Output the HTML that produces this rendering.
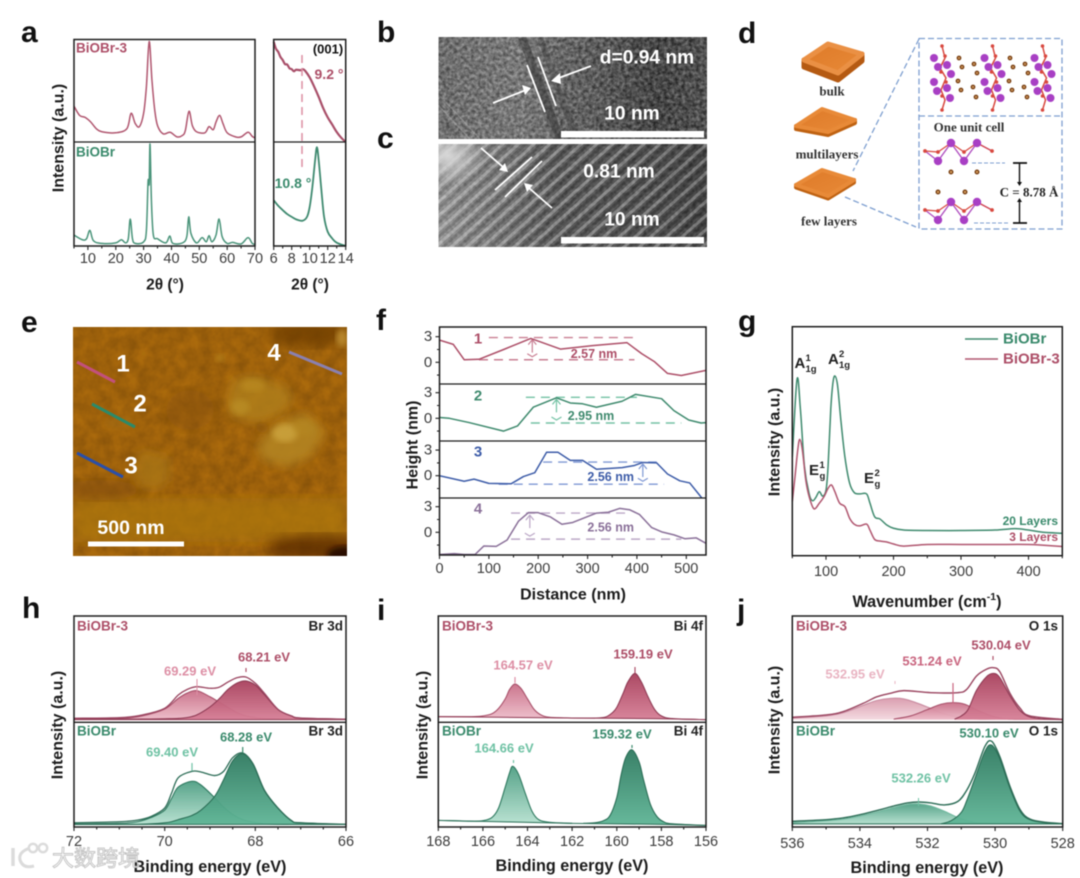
<!DOCTYPE html>
<html lang="en">
<head>
<meta charset="utf-8">
<title>BiOBr characterization figure</title>
<style>
html,body{margin:0;padding:0;background:#fff;width:1080px;height:878px;overflow:hidden}
svg{display:block;filter:blur(.45px);font-family:"Liberation Sans","Noto Sans CJK SC",sans-serif}
</style>
</head>
<body>
<svg id="fig" xmlns="http://www.w3.org/2000/svg" width="1080" height="878" viewBox="0 0 1080 878">
<defs>
  <linearGradient id="redL" x1="0" y1="0" x2="0" y2="1"><stop offset="0" stop-color="#c96f88"/><stop offset="1" stop-color="#ecbac7"/></linearGradient>
  <linearGradient id="redD" x1="0" y1="0" x2="0" y2="1"><stop offset="0" stop-color="#a8405c"/><stop offset="1" stop-color="#d67f96"/></linearGradient>
  <linearGradient id="redP" x1="0" y1="0" x2="0" y2="1"><stop offset="0" stop-color="#d99aac"/><stop offset="1" stop-color="#f3d8df"/></linearGradient>
  <linearGradient id="greenL" x1="0" y1="0" x2="0" y2="1"><stop offset="0" stop-color="#4f9f84"/><stop offset="1" stop-color="#b5e0cf"/></linearGradient>
  <linearGradient id="greenD" x1="0" y1="0" x2="0" y2="1"><stop offset="0" stop-color="#2f7a60"/><stop offset="1" stop-color="#5fb596"/></linearGradient>
  <linearGradient id="temB" x1="0" y1="0" x2="1" y2="0"><stop offset="0" stop-color="#666"/><stop offset=".3" stop-color="#777"/><stop offset=".45" stop-color="#5e5e5e"/><stop offset=".62" stop-color="#4a4a4a"/><stop offset=".8" stop-color="#2e2e2e"/><stop offset="1" stop-color="#3e3e3e"/></linearGradient>
  <linearGradient id="temC" x1="0" y1="0" x2="1" y2="0"><stop offset="0" stop-color="#777"/><stop offset=".4" stop-color="#5a5a5a"/><stop offset=".7" stop-color="#4a4a4a"/><stop offset="1" stop-color="#444"/></linearGradient>
  <radialGradient id="temGlow" cx=".5" cy=".5" r=".5"><stop offset="0" stop-color="#dcdcdc" stop-opacity=".95"/><stop offset="1" stop-color="#dcdcdc" stop-opacity="0"/></radialGradient>
  <pattern id="fringe" width="10.5" height="10.5" patternUnits="userSpaceOnUse" patternTransform="rotate(-42)">
    <rect y="1" width="10.5" height="3" fill="#fff" fill-opacity=".32"/>
    <rect y="6" width="10.5" height="2.8" fill="#000" fill-opacity=".26"/>
  </pattern>
  <linearGradient id="fringeFade" x1="0" y1="0" x2="1" y2="0"><stop offset="0" stop-color="#fff" stop-opacity=".22"/><stop offset=".45" stop-color="#fff" stop-opacity="0"/><stop offset="1" stop-color="#000" stop-opacity=".1"/></linearGradient>
  <filter id="temNoise" x="0" y="0" width="100%" height="100%" color-interpolation-filters="sRGB"><feTurbulence type="fractalNoise" baseFrequency=".28" numOctaves="2" seed="5"/><feColorMatrix values="1.7 0 0 0 -.35 1.7 0 0 0 -.35 1.7 0 0 0 -.35 0 0 0 0 1"/></filter>
  <filter id="afmNoise" x="0" y="0" width="100%" height="100%" color-interpolation-filters="sRGB"><feTurbulence type="fractalNoise" baseFrequency=".08" numOctaves="3" seed="9"/><feColorMatrix values="1.3 0 0 0 0 .85 0 0 0 0 .1 0 0 0 0 0 0 0 0 1"/></filter>
  <filter id="b3"><feGaussianBlur stdDeviation="3"/></filter>
  <filter id="b5"><feGaussianBlur stdDeviation="5"/></filter>
  <filter id="b6"><feGaussianBlur stdDeviation="6"/></filter>
  <linearGradient id="plate" x1="0" y1="0" x2="1" y2="1"><stop offset="0" stop-color="#de7a28"/><stop offset="1" stop-color="#e88a38"/></linearGradient>
  <clipPath id="clipB"><rect x="438.5" y="37" width="268.5" height="102"/></clipPath>
  <clipPath id="clipC"><rect x="438.5" y="144" width="268.5" height="103"/></clipPath>
  <clipPath id="clipE"><rect x="73" y="327" width="274" height="229"/></clipPath>
</defs>
<rect width="1080" height="878" fill="#fff"/>

<!-- panel b TEM -->
<g clip-path="url(#clipB)">
  <rect x="438.5" y="37" width="268.5" height="102" fill="url(#temB)"/>
  <rect x="438.5" y="37" width="268.5" height="102" filter="url(#temNoise)" opacity=".3"/>
  <path d="M522 37L560 139" stroke="#2c2c2c" stroke-width="8" opacity=".45" fill="none"/>
  <path d="M540 37L576 139" stroke="#333" stroke-width="6" opacity=".3" fill="none"/>
  <path d="M438 105L470 139M444 100L480 139" stroke="#ddd" stroke-width="1.5" opacity=".25" fill="none"/>
</g>
<g stroke="#fff" fill="none" stroke-width="1.8">
  <path d="M527 65L545 112"/>
  <path d="M538 57L556 106"/>
  <path d="M493 103L526 90"/>
  <path d="M522 85L531 88L525 95Z" fill="#fff" stroke="none"/>
  <path d="M591 66L556 79"/>
  <path d="M560 73L551 81L561 84Z" fill="#fff" stroke="none"/>
</g>
<rect x="561" y="131" width="143" height="6.5" fill="#fff"/>

<!-- panel c TEM -->
<g clip-path="url(#clipC)">
  <rect x="438.5" y="144" width="268.5" height="103" fill="url(#temC)"/>
  <rect x="438.5" y="144" width="268.5" height="103" fill="url(#fringe)"/>
  <rect x="438.5" y="144" width="268.5" height="103" fill="url(#fringeFade)"/>
  <rect x="438.5" y="144" width="268.5" height="103" filter="url(#temNoise)" opacity=".12"/>
  <ellipse cx="448" cy="156" rx="38" ry="30" fill="url(#temGlow)"/>
</g>
<g stroke="#fff" fill="none" stroke-width="1.8">
  <path d="M495 190L532 157"/>
  <path d="M505 197L542 161"/>
  <path d="M481 148L503 167"/>
  <path d="M499 170L508 172L505 163Z" fill="#fff" stroke="none"/>
  <path d="M552 208L529 188"/>
  <path d="M533 185L524 183L527 192Z" fill="#fff" stroke="none"/>
</g>
<rect x="561" y="237" width="143" height="6.5" fill="#fff"/>

<!-- panel d schematic -->
<g stroke-linejoin="round">
  <path d="M804 60L804 67L838 80L862 61L862 54Z" fill="#b55a12" stroke="#b55a12" stroke-width="5"/>
  <path d="M804 60L828 44L862 54L838 73Z" fill="url(#plate)" stroke="#ea9044" stroke-width="5"/>
  <path d="M796 126L796 129L828 135L855 123L855 120Z" fill="#bf6212" stroke="#bf6212" stroke-width="4"/>
  <path d="M796 126L822 109L855 120L828 132Z" fill="url(#plate)" stroke="#e88a38" stroke-width="4"/>
  <path d="M796 185L796 187.5L828 198.5L854 182.5L854 180Z" fill="#bf6212" stroke="#bf6212" stroke-width="4"/>
  <path d="M796 185L822 170L854 180L828 196Z" fill="url(#plate)" stroke="#e88a38" stroke-width="4"/>
  <g stroke="#7e9fd0" stroke-width="1.3" fill="none" stroke-dasharray="6 3">
    <rect x="919" y="38.5" width="143" height="190.5"/>
    <path d="M919 116H1062"/>
    <path d="M919 39L853 171"/>
    <path d="M845 197L916 227"/>
  </g>
  <g id="atoms"></g>
  <g stroke="#7e9fd0" stroke-width="1.1" stroke-dasharray="4 2" fill="none">
    <path d="M972 163H1005"/>
    <path d="M974 223H1008"/>
  </g>
  <g stroke="#111" fill="none">
    <path d="M1013 163H1027M1013 223H1027" stroke-width="1.8"/>
    <path d="M1019.5 163V183M1019.5 223V201" stroke-width="1.4"/>
    <path d="M1017 182L1019.5 186L1022 182ZM1017 202L1019.5 198L1022 202Z" fill="#111" stroke="none"/>
  </g>
</g>

<!-- panel e AFM -->
<g clip-path="url(#clipE)">
  <rect x="73" y="327" width="274" height="229" fill="#9c5f0b"/>
  <rect x="73" y="327" width="274" height="229" filter="url(#afmNoise)" opacity=".14"/>
  <rect x="73" y="498" width="274" height="44" fill="#ad780e" opacity=".7" filter="url(#b6)"/>
  <ellipse cx="310" cy="333" rx="42" ry="14" fill="#6e3e06" opacity=".8" filter="url(#b6)"/>
  <ellipse cx="190" cy="410" rx="24" ry="20" fill="#85500a" opacity=".45" filter="url(#b6)"/>
  <ellipse cx="100" cy="490" rx="40" ry="10" fill="#85500a" opacity=".7" filter="url(#b6)"/>
  <ellipse cx="318" cy="548" rx="52" ry="13" fill="#5a2c04" opacity=".8" filter="url(#b6)"/>
  <ellipse cx="345" cy="556" rx="18" ry="10" fill="#2a0e00" filter="url(#b3)"/>
  <path d="M233 380L253 375L287 387L293 400L280 415L257 423L233 417L227 403Z" fill="#b0801a" opacity=".8" filter="url(#b5)"/>
  <path d="M267 433L283 420L307 413L325 433L310 457L287 467L263 460L257 447Z" fill="#b38420" opacity=".9" filter="url(#b5)"/>
  <ellipse cx="285" cy="433" rx="13" ry="9" fill="#d4ae46" opacity=".65" filter="url(#b3)"/>
  <ellipse cx="253" cy="385" rx="12" ry="7" fill="#bd8e22" opacity=".6" filter="url(#b3)"/>
  <ellipse cx="240" cy="407" rx="10" ry="8" fill="#c0962a" opacity=".55" filter="url(#b3)"/>
  <ellipse cx="305" cy="428" rx="12" ry="8" fill="#b58820" opacity=".55" filter="url(#b3)"/>
  <ellipse cx="262" cy="428" rx="6" ry="5" fill="#85520a" opacity=".6" filter="url(#b3)"/>
  <path d="M140 450L170 457L170 480L157 490L140 487L133 473Z" fill="#a87614" opacity=".75" filter="url(#b5)"/>
  <ellipse cx="342" cy="338" rx="6" ry="9" fill="#b8862a" filter="url(#b3)"/>
  <ellipse cx="120" cy="423" rx="15" ry="6" fill="#aa7212" opacity=".5" filter="url(#b3)"/>
  <ellipse cx="220" cy="358" rx="5" ry="4" fill="#b0801a" opacity=".7" filter="url(#b3)"/>
  <path d="M77 362L115 382" stroke="#c2507c" stroke-width="3"/>
  <path d="M92 404L135 427" stroke="#2b8a6a" stroke-width="3"/>
  <path d="M77 453L123 477" stroke="#2a4fa8" stroke-width="3"/>
  <path d="M289 352L342 374" stroke="#8a80b0" stroke-width="3"/>
</g>
<rect x="88" y="541.5" width="96" height="5" fill="#fff"/>

<g id="charts"></g>

<!-- watermark -->
<g opacity=".92">
  <g fill="none" stroke="#c9c9c9" stroke-width="2.4">
    <path d="M13 848L13 866" stroke="#d8d8d8" stroke-width="3.4"/>
    <path d="M30 848Q18 852 20 860Q23 869 34 866" stroke="#d8d8d8" stroke-width="3"/>
    <circle cx="33" cy="848" r="4.2" stroke="#d8d8d8"/><circle cx="43" cy="848" r="4.2" stroke="#d8d8d8"/>
  </g>
  <text x="52" y="866" font-size="22" font-family="'Noto Sans CJK SC','WenQuanYi Zen Hei',sans-serif" fill="#fff" stroke="#bdbdbd" stroke-width=".9">大数跨境</text>
</g>
</svg>

<script>
// ---------- panel a data ----------
const aTopX=[5,7,9,11,13,15,20,24,25.5,27,28.5,30,31,32,33,34,35,37,39.5,42,44,45,46.3,47.5,49,52,53.5,55,56,57.3,58.5,60,63,65,67.5,69,70];
const aTopI=[35,26,24,19.5,13,10,9,13,28,18,15,28,54,98,60,31,16,8,9.5,5,6.5,11.4,30,16,10,9,15,12,19.5,26,18,9,5,5,9.5,5.5,4];
const aBotX=[5,8,9.5,10.7,12,15,20,22,23.5,24.5,25.2,26,27,30,31,31.6,32,32.3,32.8,33.5,35,38,39.4,40.5,44,45.5,46.2,47,49,51,52.5,53.5,54.5,56,57.1,58.2,60,62,65,67.5,69,70];
const aBotI=[10.5,6,7,15,5,2.5,3,6,3,7,26,7,2.5,4,15,62,60,98,44,10.5,7,3,9.6,2.5,3,9,28,12,3,8,4,10,4,10.5,26,9,2.5,3.5,2,8,2.5,1.5];
const aInsTopX=[6,6.25,6.5,6.75,7,7.25,7.5,7.75,8,8.25,8.5,9,9.25,9.5,10,10.5,11,11.5,12,12.5,13,13.5,14];
const aInsTopI=[97.7,91,88,83,80,76,75.6,72,71,69,70.5,70,71,69.4,63,54,44,33,24,17,9.8,4.2,0];
const aInsBotX=[6,6.5,7,7.5,8,8.5,9.2,9.7,10,10.3,10.6,10.8,11,11.3,11.6,12,12.5,13,14];
const aInsBotI=[44,38.7,34.5,30.7,28,25.6,24.3,28,37.7,56.9,82.4,95,82.4,53.7,28,13.7,7.3,3.2,0];
const aTicks=[10,20,30,40,50,60,70];
const aInsTicks=[6,8,10,12,14];
// ---------- panel f data ----------
const fTicks=[0,100,200,300,400,500];
const fDist1=[0,28,50,80,130,185,245,310,380,410,435,462,490,540];
const fH1=[2.6,2.1,.3,.35,1.5,2.8,1.55,1.95,2.3,1,.1,-1.3,-1.55,-.95];
const fDist2=[0,20,60,130,158,190,237,265,290,318,370,397,450,475,505,530,540];
const fH2=[.1,0,-.5,-1.5,-.9,1.3,2.4,1.8,1.7,1.3,2,2.8,2.3,.9,-.2,-.55,-.5];
const fDist3=[0,50,70,100,145,170,193,217,240,265,290,318,370,395,412,440,462,487,507,530,540];
const fH3=[0,-.65,-.4,-.9,-.95,-.1,.35,2.75,2.75,1.8,1.8,.75,.95,1.2,1.55,1.5,.2,-.6,-.85,-2.5,-3.3];
const fDist4=[0,30,50,72,90,115,137,160,180,200,225,248,270,318,342,365,385,405,430,450,475,497,520,540];
const fH4=[-2.6,-2.5,-2.6,-2.6,-1.6,-1.65,-.9,1.3,2.3,2.3,1.8,.95,1.15,2.25,2.35,2.8,2.65,2.1,.55,.05,-.3,-.75,-.65,-1.3];
// ---------- panel g data ----------
const gTicks=[100,200,300,400];
const gWaveA=[50,57,62,68,75,80,85,90,95,100,103,107,110,113,117,122,128,135,142,150,160,165,172,180,190,200,215,250,300,350,380,400,420,450];
const gBiOBr=[43,77,64,39,27,24,25.5,28,26,28.7,39,64,75,78.5,74.5,59,43,31.6,27.5,27,27,23,17,16,13.4,12,11.2,11,11,11.2,11.8,11.2,10.3,9.8];
const gWaveB=[50,54,58,61,65,70,75,82,90,97,103,108,113,120,128,135,142,150,160,165,172,180,190,200,215,250,300,350,400,420,450];
const gBiOBr3=[23.6,34.5,46,50.8,46,33,25.8,20.5,22.9,25.8,29.4,30.9,28,23,21.4,16.3,13.7,13,13.8,11.2,7.1,6.4,6,5.1,4.2,4.9,4.9,4.9,4.9,4.6,4];
// ---------- panel h data ----------
const hTicks=[72,70,68,66];
const hTopE=[72,71,70.5,70,69.7,69.5,69.29,69,68.8,68.6,68.4,68.21,68,67.8,67.5,67.2,67,66];
const hTopEnv=[3.8,4.4,6.9,13.2,25.7,31,33.5,32,33,38,42,42.6,36.7,27.3,12.2,5.9,4,2.8];
const hTopC1=[3.3,3.5,6,12.5,22.5,27.5,29.8,24,19,14,9,6,4.5,3.5,3.2,3,3,3];
const hTopC2=[3,3,3,3.3,3.6,4.5,7,14.5,22,31,37,38.9,35,26,12,6,4,3];
const hBotE=[72,71,70.6,70.3,70,69.85,69.7,69.4,69.2,68.9,68.7,68.5,68.28,68.05,67.8,67.5,67.2,67,66];
const hBotEnv=[4,5,6.5,10,18,32,47,53,52.4,49,53,66,70.5,60,35,18,6,4,2.5];
const hBotC1=[3,3.5,5,9,16,27,38,43.5,40,28,19,12,7,4.5,3,2.5,2.5,2.5,2.5];
const hBotC2=[2.5,2.5,2.5,3,4,5,7,11,16,29,45,63,69.8,60,35,18,6,4,2.5];
// ---------- panel i data ----------
const iTicks=[168,166,164,162,160,158,156];
const iP1E=[168,166.5,166,165.6,165.3,165,164.8,164.57,164.3,164,163.7,163.4,163,162];
const iTopP1=[5.3,5.3,6,8,13,22,31,36,32,22,12,7,4.7,4];
const iP2E=[162,161,160.5,160.2,160,159.7,159.5,159.19,158.9,158.6,158.3,158,157.5,156];
const iTopP2=[4,4,5,9,14,28,38,46,38,24,12,6,3.5,2.5];
const iBotP1E=[168,166.5,166,165.6,165.3,165,164.8,164.66,164.4,164.1,163.8,163.5,163,162];
const iBotP1=[6.3,5.5,6,9,18,38,52,57.8,50,32,15,7,4.5,3.5];
const iBotP2E=[161.5,161,160.6,160.3,160,159.8,159.6,159.32,159,158.8,158.5,158.2,157.9,157.5,156];
const iBotP2=[3.5,4,6,11,28,50,66,73.6,62,45,22,10,5,3,1.5];
const iBgE=[168,162,158,156];
const iTopBg=[5.3,4,3.4,2.5];
const iBotBg=[6.3,3.5,2.5,1.5];
// ---------- panel j data ----------
const jTicks=[536,534,532,530,528];
const jTopE=[536,535,534.5,533.9,533.5,533.1,532.7,531.9,531.1,530.84,530.55,530.25,530.05,529.86,529.56,529.26,528.97,528];
const jTopEnv=[4.7,6.9,10,17.9,24,27.3,29.8,27.9,27.9,31,43.6,50,51.4,47.6,27.3,13.2,6,2.8];
const jTopC1E=[536,535,534.5,533.9,533.5,533.1,532.7,532.3,531.9,531.5,531,530.5,530,528];
const jTopC1=[4,6,9,16,20.5,22.5,22,18,13,8,4.5,3,3,3];
const jTopC2E=[533,532.5,532,531.6,531.24,530.9,530.5,530,529.5,528];
const jTopC2=[3,6,12,17,18.5,17,11,5,3,3];
const jTopC3E=[531.2,531,530.8,530.55,530.25,530.04,529.86,529.56,529.26,528.97,528.5,528];
const jTopC3=[3,6,12,30,43,46,42,25,11,5,3,2.5];
const jBotE=[536,535,534.5,534,533.4,533,532.6,532.26,531.9,531.5,531.1,530.84,530.6,530.3,530.1,529.86,529.56,529.26,528.97,528.5,528];
const jBotEnv=[5.4,7,8.6,11.7,16.5,20,22.9,23.8,22.9,21,24.4,35,51,76.8,81.6,67,38.7,16.5,7.6,4.4,3.2];
const jBotC1E=[536,535,534.5,534,533.4,533,532.6,532.26,531.9,531.5,531.1,530.7,530.3,528];
const jBotC1=[4,6,7.5,10.5,15,18.5,21.5,22,20,15,9,5,3.5,3];
const jBotC2E=[531.6,531.3,531,530.84,530.6,530.3,530.1,529.86,529.56,529.26,528.97,528.5,528];
const jBotC2=[3,6,14,25,46,72,78,65,37,15,7,4,3];

// ---------- helpers ----------
const NS='http://www.w3.org/2000/svg';
const root=document.getElementById('charts');
const RED='#ad4f68',GRN='#3a8a6c',INK='#1c1c1c',TICK='#3c3c3c';
const LINE_RED='#b0566f';
const TICKSIZE=14.5,TITLE=16.2,PEAK=13;
function scale(d0,d1,r0,r1){return v=>r0+(v-d0)*(r1-r0)/(d1-d0);}
function svgEl(tag,parent,props){
  const el=document.createElementNS(NS,tag);
  for(const k in props)el.setAttribute(k,props[k]);
  parent.appendChild(el);
  return el;
}
function label(x,y,str,opt,nm){
  const o=opt||{};
  const el=svgEl('text',root,{x:x,y:y,'font-size':o.size||14,'font-weight':o.weight||'bold',fill:o.fill||INK,'text-anchor':o.anchor||'middle','dominant-baseline':o.base||'central'});
  if(o.rot)el.setAttribute('transform','rotate('+o.rot+' '+x+' '+y+')');
  if(o.family)el.setAttribute('font-family',o.family);
  el.textContent=str;
  
  
  return el;
}
function stroke(d,col,w,nm,dash,op){
  const el=svgEl('path',root,{d:d,fill:'none',stroke:col,'stroke-width':w,'stroke-linejoin':'round'});
  if(dash)el.setAttribute('stroke-dasharray',dash);
  if(op)el.setAttribute('opacity',op);
  
  
  return el;
}
function polyD(xs,ys,sx,sy){return xs.map((v,i)=>(i?'L':'M')+sx(v).toFixed(2)+' '+sy(ys[i]).toFixed(2)).join('');}
function smoothD(xs,ys,sx,sy){
  const p=xs.map((v,i)=>[sx(v),sy(ys[i])]);
  let d='M'+p[0][0].toFixed(2)+' '+p[0][1].toFixed(2);
  for(let i=0;i<p.length-1;i++){
    const a=p[Math.max(i-1,0)],b=p[i],c=p[i+1],e=p[Math.min(i+2,p.length-1)];
    const c1=[b[0]+(c[0]-a[0])/6,b[1]+(c[1]-a[1])/6],c2=[c[0]-(e[0]-b[0])/6,c[1]-(e[1]-b[1])/6];
    d+='C'+c1[0].toFixed(2)+' '+c1[1].toFixed(2)+' '+c2[0].toFixed(2)+' '+c2[1].toFixed(2)+' '+c[0].toFixed(2)+' '+c[1].toFixed(2);
  }
  return d;
}
function area(xs,ys,sx,sy,base,fill,edge,nm){
  const top=smoothD(xs,ys,sx,sy);
  const d=base===null?top+'Z':top+'L'+sx(xs[xs.length-1]).toFixed(2)+' '+sy(base).toFixed(2)+'L'+sx(xs[0]).toFixed(2)+' '+sy(base).toFixed(2)+'Z';
  const f=svgEl('path',root,{d:d,fill:fill,opacity:.95});
  
  
  stroke(top,edge,1.1,nm+'-edge');
}
function frame(x,y,w,h,nm){
  const el=svgEl('rect',root,{x:x,y:y,width:w,height:h,fill:'none',stroke:'#1c1c1c','stroke-width':1.5});
  
  
}
function xAxis(ticks,sx,y,labelY,size,minorStep,d0,d1,nm){
  let d='';
  const lo=Math.min(d0,d1),hi=Math.max(d0,d1);
  for(let v=lo;v<=hi+1e-6;v+=minorStep)d+='M'+sx(v).toFixed(1)+' '+y+'v2.5';
  ticks.forEach(t=>{
    d+='M'+sx(t).toFixed(1)+' '+y+'v4';
    label(sx(t),labelY,String(t),{size:size,weight:'normal',fill:TICK},nm+'-tick-'+t);
  });
  stroke(d,'#222',1.1,nm+'-ticks');
}

// ---------- panel letters ----------
[['a',21,42],['b',377,42],['c',377,148],['d',738,43],['e',21,332],['f',376,330],['g',738,331],['h',22,618],['i',377,620],['j',737,620]].forEach(r=>{
  label(r[1],r[2],r[0],{size:30,anchor:'start',base:'auto',fill:'#111'},'panel-letter-'+r[0]);
});

// ---------- panel a ----------
(function(){
  const L=74,R=255,T=39.5,M=142,B=246,L2=273.7,R2=345.7;
  const sx=scale(5,70,L,R),sx2=scale(6,14,L2,R2);
  const syT=scale(0,100,M,T),syB=scale(0,100,B,M);
  stroke(smoothD(aTopX,aTopI,sx,syT),LINE_RED,1.5,'xrd-biobr3-line');
  stroke(smoothD(aBotX,aBotI,sx,syB),'#4a947a',1.5,'xrd-biobr-line');
  stroke(smoothD(aInsTopX,aInsTopI,sx2,syT),'#a9506a',2.2,'xrd-inset-biobr3-line');
  stroke(smoothD(aInsBotX,aInsBotI,sx2,syB),'#3f8a70',1.8,'xrd-inset-biobr-line');
  stroke('M302 55V172','#dc8da2',1.5,'peak-shift-guide','8 5');
  frame(L,T,R-L,B-T,'xrd-frame');
  stroke('M'+L+' '+M+'H'+R,'#1c1c1c',1.3,'xrd-divider');
  frame(L2,T,R2-L2,B-T,'xrd-inset-frame');
  stroke('M'+L2+' '+M+'H'+R2,'#1c1c1c',1.3,'xrd-inset-divider');
  xAxis(aTicks,sx,B,259,TICKSIZE,5,5,70,'xrd-x');
  xAxis(aInsTicks,sx2,B,259,TICKSIZE,1,6,14,'xrd-inset-x');
  label(76,48,'BiOBr-3',{size:13.5,anchor:'start',fill:RED},'xrd-biobr3-label');
  label(76,152,'BiOBr',{size:13.5,anchor:'start',fill:GRN},'xrd-biobr-label');
  label(328,49,'(001)',{size:13,fill:'#111'},'xrd-001-label');
  label(329,74,'9.2 °',{size:14,fill:RED},'xrd-peak-9-2');
  label(293,183,'10.8 °',{size:14,fill:GRN},'xrd-peak-10-8');
  label(165,285,'2θ (°)',{size:15.5},'xrd-x-title');
  label(310,285,'2θ (°)',{size:15.5},'xrd-inset-x-title');
  label(59,138,'Intensity (a.u.)',{size:16,rot:-90},'xrd-y-title');
})();

// ---------- panel b/c/d/e text ----------
label(647,58,'d=0.94 nm',{size:19.2,fill:'#fff'},'tem-b-spacing');
label(632,114,'10 nm',{size:19.2,fill:'#fff'},'tem-b-scale-text');
label(619,172,'0.81 nm',{size:19.2,fill:'#fff'},'tem-c-spacing');
label(632,220,'10 nm',{size:19.2,fill:'#fff'},'tem-c-scale-text');
const SERIF='"Liberation Serif",serif';
label(832,91,'bulk',{size:13,family:SERIF,fill:'#333'},'bulk-label');
label(827,154,'multilayers',{size:13,family:SERIF,fill:'#333'},'multilayers-label');
label(829,221,'few layers',{size:13,family:SERIF,fill:'#333'},'few-layers-label');
label(969,127,'One unit cell',{size:13,family:SERIF,fill:'#333'},'unit-cell-label');
label(1029,192,'C = 8.78 Å',{size:13,family:SERIF,fill:'#222'},'c-spacing-label');
label(123,364,'1',{size:24,fill:'#fff'},'afm-label-1');
label(140,404,'2',{size:24,fill:'#fff'},'afm-label-2');
label(131,466,'3',{size:24,fill:'#fff'},'afm-label-3');
label(274,353,'4',{size:24,fill:'#fff'},'afm-label-4');
label(131,528,'500 nm',{size:19.5,fill:'#fff'},'afm-scale-text');

// crystal structure atoms
(function(){
  const g=document.getElementById('atoms');
  function atom(x,y,r,fill,nm,ring){
    const c=svgEl('circle',g,{cx:x,cy:y,r:r,fill:fill});
    if(ring){c.setAttribute('stroke',ring);c.setAttribute('stroke-width',1.4);}
    
    
  }
  function bond(d,col,w){
    const p=svgEl('path',g,{d:d,stroke:col,'stroke-width':w,fill:'none'});
    
    
  }
  [0,50.5,100.5].forEach(dx=>{
    bond('M'+(942+dx)+' 46L'+(945+dx)+' 58L'+(940+dx)+' 68L'+(946+dx)+' 78L'+(941+dx)+' 90L'+(945+dx)+' 100L'+(942+dx)+' 110',"#d8483f",1.5);
    [[934,58],[938,67],[947,65],[951,74],[934,82],[937,91],[947,88],[950,98]].forEach(p=>atom(p[0]+dx,p[1],4,'#a83fc4','bromine-atom'));
    [[942,46],[945,56],[941,72],[946,82],[942,96],[942,110]].forEach(p=>atom(p[0]+dx,p[1],1.8,'#d8483f','oxygen-atom'));
  });
  [0,51].forEach(dx=>{
    [[959,58],[962,67],[974,64],[977,73],[958,81],[961,90],[973,87],[976,97]].forEach(p=>atom(p[0]+dx,p[1],1.7,'#d8a060','bismuth-atom','#7c4418'));
  });
  const zig=y=>'M925 '+(y-1)+'L938 '+(y+9)+'L951 '+(y-9)+'L964 '+(y+9)+'L977 '+(y-9)+'L992 '+(y-1);
  const redZig=y=>'M925 '+(y-1)+'L938 '+y+'L951 '+(y-9)+'L964 '+y+'L977 '+(y-9)+'L992 '+(y-1);
  bond(zig(152),'#b050c0',1.4);
  bond(zig(211),'#b050c0',1.4);
  bond(redZig(152),'#d8483f',1.2);
  bond(redZig(211),'#d8483f',1.2);
  [152,211].forEach(y=>{
    [[925,-1],[938,0],[964,0],[992,-1]].forEach(p=>atom(p[0],y+p[1],1.9,'#d8483f','oxygen-atom'));
    [[938,9],[964,9],[951,-9],[977,-9]].forEach(p=>atom(p[0],y+p[1],4.2,'#a83fc4','bromine-atom'));
  });
  [[951,172],[977,172],[938,192],[965,192]].forEach(p=>atom(p[0],p[1],1.8,'#d8a060','bismuth-atom','#7c4418'));
})();

// ---------- panel f ----------
(function(){
  const L=439.5,R=706,sx=scale(0,540,L,R);
  const rows=[
    {t:327,b:384,z:362.3,d:fDist1,h:fH1,c:'#ad4f68',pale:'#c97f93',n:'1',ny:339,up:2.9,lo:.3,ux:[100,400],lx:[80,395],ar:188,tx:594,ty:354,val:'2.57 nm',nx:478},
    {t:384,b:441,z:418.3,d:fDist2,h:fH2,c:'#3f8a6e',pale:'#73c2a4',n:'2',ny:396,up:2.46,lo:-.55,ux:[175,400],lx:[185,490],ar:237,tx:591,ty:416,val:'2.95 nm',nx:478},
    {t:441,b:498,z:475.7,d:fDist3,h:fH3,c:'#3d5ca8',pale:'#7f98d4',n:'3',ny:452,up:1.6,lo:-1,ux:[210,440],lx:[120,455],ar:412,tx:610.7,ty:477,val:'2.56 nm',nx:478},
    {t:498,b:555,z:532.3,d:fDist4,h:fH4,c:'#8a7099',pale:'#bba7c6',n:'4',ny:509,up:2.25,lo:-.8,ux:[145,385],lx:[145,490],ar:183,tx:610.7,ty:527.6,val:'2.56 nm',nx:478}
  ];
  rows.forEach((r,i)=>{
    const sy=v=>r.z-v*8.53;
    const cid='fclip'+i;
    const cp=svgEl('clipPath',root,{id:cid});
    svgEl('rect',cp,{x:L,y:r.t,width:R-L,height:r.b-r.t});
    stroke('M'+sx(r.ux[0])+' '+sy(r.up)+'H'+sx(r.ux[1]),r.pale,1.4,'height-guide-top-'+r.n,'9 6');
    stroke('M'+sx(r.lx[0])+' '+sy(r.lo)+'H'+sx(r.lx[1]),r.pale,1.4,'height-guide-bottom-'+r.n,'9 6');
    const ax=sx(r.ar),ay=sy(r.up)+2,by=sy(r.lo)-3;
    stroke('M'+ax+' '+(ay+13)+'V'+ay+'M'+(ax-4)+' '+(ay+5)+'L'+ax+' '+ay+'L'+(ax+4)+' '+(ay+5),r.pale,1.2,'height-arrow-up-'+r.n);
    stroke('M'+(ax-5)+' '+(by-3)+'L'+ax+' '+by+'L'+(ax+5)+' '+(by-3),r.pale,1.2,'height-arrow-down-'+r.n);
    const ln=stroke(polyD(r.d,r.h,sx,sy),r.c,1.5,'height-profile-'+r.n);
    ln.setAttribute('clip-path','url(#'+cid+')');
    label(r.nx,r.ny,r.n,{size:15,fill:r.c},'profile-number-'+r.n);
    label(r.tx,r.ty,r.val,{size:12.5,fill:r.c},'height-value-'+r.n);
    let d='';
    [3,0].forEach(v=>{
      d+='M'+L+' '+sy(v)+'h-4';
      label(428,sy(v),String(v),{size:15,weight:'normal',fill:TICK},'height-y-tick-'+r.n+'-'+v);
    });
    [1.5,-1.5].forEach(v=>{d+='M'+L+' '+sy(v)+'h-2.5';});
    stroke(d,'#222',1.1,'height-y-ticks-'+r.n);
    if(i)stroke('M'+L+' '+r.t+'H'+R,'#1c1c1c',1.3,'height-divider-'+r.n);
  });
  frame(L,327,R-L,228,'height-frame');
  xAxis(fTicks,sx,555,569,TICKSIZE,50,0,500,'height-x');
  label(573,595,'Distance (nm)',{size:16},'height-x-title');
  label(413,445,'Height (nm)',{size:16,rot:-90},'height-y-title');
})();

// ---------- panel g ----------
(function(){
  const L=792.3,R=1062.3,T=326.7,B=555.7;
  const sx=scale(50,450,L,R),sy=scale(0,100,B,T);
  stroke(smoothD(gWaveA,gBiOBr,sx,sy),'#3f8a6e',1.5,'raman-biobr-line');
  stroke(smoothD(gWaveB,gBiOBr3,sx,sy),LINE_RED,1.5,'raman-biobr3-line');
  frame(L,T,R-L,B-T,'raman-frame');
  xAxis(gTicks,sx,B,572,TICKSIZE,50,50,450,'raman-x');
  stroke('M965 339H998','#3f8a6e',1.5,'legend-line-biobr');
  stroke('M965 359H998',LINE_RED,1.5,'legend-line-biobr3');
  label(1003,339,'BiOBr',{size:15,anchor:'start',fill:GRN},'legend-label-biobr');
  label(1003,359,'BiOBr-3',{size:15,anchor:'start',fill:RED},'legend-label-biobr3');
  label(1058,521,'20 Layers',{size:12,anchor:'end',fill:GRN},'layers-20-label');
  label(1058,537,'3 Layers',{size:12,anchor:'end',fill:RED},'layers-3-label');
  [[794.5,368,'A','1','1g'],[828,364,'A','2','1g'],[809,475,'E','1','g'],[864,483,'E','2','g']].forEach((p,i)=>{
    label(p[0],p[1],p[2],{size:15,anchor:'start',base:'auto',fill:'#222'},'raman-mode-'+i);
    const w=p[2]==='A'?11:10.5;
    label(p[0]+w,p[1]-7,p[3],{size:9.5,anchor:'start',base:'auto',fill:'#222'},'raman-mode-sup-'+i);
    label(p[0]+w,p[1]+4,p[4],{size:9.5,anchor:'start',base:'auto',fill:'#222'},'raman-mode-sub-'+i);
  });
  const t=label(927,602,'Wavenumber (cm',{size:TITLE},'raman-x-title');
  const s=svgEl('tspan',t,{dy:-5,'font-size':10.5});
  s.textContent='-1';
  
  
  const e=svgEl('tspan',t,{dy:5});
  e.textContent=')';
  
  
  label(775,442,'Intensity (a.u.)',{size:16,rot:-90},'raman-y-title');
})();

// ---------- XPS panels ----------
const XT=616,XM=722.3,XB=827;
const syTop=scale(0,100,XM,XM-106.3),syBot=scale(0,100,XB,XB-105);
function xpsLabels(L,R,tag,core,lx,rx){
  label(lx,626,'BiOBr-3',{size:13.5,anchor:'start',fill:RED},tag+'-biobr3-label');
  label(lx,731,'BiOBr',{size:13.5,anchor:'start',fill:GRN},tag+'-biobr-label');
  label(rx,626,core,{size:13.5,anchor:'end',fill:'#222'},tag+'-core-top');
  label(rx,731,core,{size:13.5,anchor:'end',fill:'#222'},tag+'-core-bottom');
}
function xpsFrame(L,R,tag){
  frame(L,XT,R-L,XB-XT,tag+'-frame');
  stroke('M'+L+' '+XM+'H'+R,'#1c1c1c',1.4,tag+'-divider');
}
const PK_R='#dd8fa5',PK_G='#6fc2a4',PK_P='#e9b4c2',PK_M='#c9657f';
// h
(function(){
  const L=74,R=346,sx=scale(72,66,L,R);
  area(hTopE,hTopC1,sx,syTop,2.5,'url(#redL)','#a8506a','br3d-biobr3-comp-1');
  area(hTopE,hTopC2,sx,syTop,2.5,'url(#redD)','#8f3a54','br3d-biobr3-comp-2');
  stroke(smoothD(hTopE,hTopEnv,sx,syTop),'#9a4560',1.3,'br3d-biobr3-envelope');
  area(hBotE,hBotC1,sx,syBot,2.5,'url(#greenL)','#2f7a60','br3d-biobr-comp-1');
  area(hBotE,hBotC2,sx,syBot,2.5,'url(#greenD)','#2a6e56','br3d-biobr-comp-2');
  stroke(smoothD(hBotE,hBotEnv,sx,syBot),'#2d6d57',1.3,'br3d-biobr-envelope');
  stroke('M'+L+' '+syTop(2.5)+'H'+R,'#8f3a54',1,'br3d-biobr3-baseline');
  stroke('M'+L+' '+syBot(2.5)+'H'+R,'#2a6e56',1,'br3d-biobr-baseline');
  xpsFrame(L,R,'br3d');
  xAxis(hTicks,sx,XB,842,TICKSIZE,.5,72,66,'br3d-x');
  xpsLabels(L,R,'br3d','Br 3d',77,343);
  label(190,671,'69.29 eV',{size:PEAK,fill:PK_R},'br3d-peak-69-29');
  label(264,657,'68.21 eV',{size:PEAK,fill:RED},'br3d-peak-68-21');
  label(172,752,'69.40 eV',{size:PEAK,fill:PK_G},'br3d-peak-69-40');
  label(246,737,'68.28 eV',{size:PEAK,fill:GRN},'br3d-peak-68-28');
  stroke('M246 668V672',RED,1.2,'br3d-marker-1');
  stroke('M197 679V695',PK_R,1,'br3d-marker-2');
  stroke('M192 763V771',PK_G,1.2,'br3d-marker-3');
  stroke('M242.7 747V753',GRN,1.2,'br3d-marker-4');
  label(210,867,'Binding energy (eV)',{size:TITLE},'br3d-x-title');
  label(58,725,'Intensity (a.u.)',{size:16,rot:-90},'br3d-y-title');
})();
// i
(function(){
  const L=438.3,R=706,sx=scale(168,156,L,R);
  area(iP1E,iTopP1,sx,syTop,null,'url(#redL)','#a8506a','bi4f-biobr3-peak-1');
  area(iP2E,iTopP2,sx,syTop,null,'url(#redD)','#8f3a54','bi4f-biobr3-peak-2');
  stroke(polyD(iBgE,iTopBg,sx,syTop),'#8f3a54',1,'bi4f-biobr3-background');
  area(iBotP1E,iBotP1,sx,syBot,null,'url(#greenL)','#2f7a60','bi4f-biobr-peak-1');
  area(iBotP2E,iBotP2,sx,syBot,null,'url(#greenD)','#2a6e56','bi4f-biobr-peak-2');
  stroke(polyD(iBgE,iBotBg,sx,syBot),'#2a6e56',1,'bi4f-biobr-background');
  xpsFrame(L,R,'bi4f');
  xAxis(iTicks,sx,XB,842,TICKSIZE,1,168,156,'bi4f-x');
  xpsLabels(L,R,'bi4f','Bi 4f',442,703);
  label(523,665,'164.57 eV',{size:PEAK,fill:PK_R},'bi4f-peak-164-57');
  label(643,654,'159.19 eV',{size:PEAK,fill:RED},'bi4f-peak-159-19');
  label(504,748,'164.66 eV',{size:PEAK,fill:PK_G},'bi4f-peak-164-66');
  label(622,734,'159.32 eV',{size:PEAK,fill:GRN},'bi4f-peak-159-32');
  stroke('M515 677V683',PK_R,1.2,'bi4f-marker-1');
  stroke('M635 667V673',RED,1.2,'bi4f-marker-2');
  stroke('M513.5 760V763',PK_G,1.2,'bi4f-marker-3');
  stroke('M632 745V748',GRN,1.2,'bi4f-marker-4');
  label(572,866,'Binding energy (eV)',{size:TITLE},'bi4f-x-title');
  label(423,725,'Intensity (a.u.)',{size:16,rot:-90},'bi4f-y-title');
})();
// j
(function(){
  const L=792.3,R=1062.7,sx=scale(536,528,L,R);
  area(jTopC1E,jTopC1,sx,syTop,2.5,'url(#redP)','#c98ba0','o1s-biobr3-comp-1');
  area(jTopC2E,jTopC2,sx,syTop,2.5,'url(#redL)','#a8506a','o1s-biobr3-comp-2');
  area(jTopC3E,jTopC3,sx,syTop,2.5,'url(#redD)','#8f3a54','o1s-biobr3-comp-3');
  stroke(smoothD(jTopE,jTopEnv,sx,syTop),'#9a4560',1.4,'o1s-biobr3-envelope');
  area(jBotC1E,jBotC1,sx,syBot,2.5,'url(#greenL)','#6fb79d','o1s-biobr-comp-1');
  area(jBotC2E,jBotC2,sx,syBot,2.5,'url(#greenD)','#2a6e56','o1s-biobr-comp-2');
  stroke(smoothD(jBotE,jBotEnv,sx,syBot),'#2d6d57',1.4,'o1s-biobr-envelope');
  stroke('M'+L+' '+syBot(3)+'H'+R,'#2a6e56',1,'o1s-biobr-baseline');
  xpsFrame(L,R,'o1s');
  xAxis(jTicks,sx,XB,844,TICKSIZE,1,536,528,'o1s-x');
  xpsLabels(L,R,'o1s','O 1s',796,1058);
  label(855,674,'532.95 eV',{size:PEAK,fill:PK_P},'o1s-peak-532-95');
  label(932,661,'531.24 eV',{size:PEAK,fill:PK_M},'o1s-peak-531-24');
  label(1001,645,'530.04 eV',{size:PEAK,fill:RED},'o1s-peak-530-04');
  label(921,778,'532.26 eV',{size:PEAK,fill:PK_G},'o1s-peak-532-26');
  label(989,733,'530.10 eV',{size:PEAK,fill:GRN},'o1s-peak-530-10');
  stroke('M895 681V684',PK_P,1,'o1s-marker-1');
  stroke('M953 683V703',PK_M,1.2,'o1s-marker-2');
  stroke('M993 656V660',RED,1.2,'o1s-marker-3');
  stroke('M918.5 798V806',PK_G,1,'o1s-marker-4');
  label(927,868,'Binding energy (eV)',{size:TITLE},'o1s-x-title');
  label(775,720,'Intensity (a.u.)',{size:16,rot:-90},'o1s-y-title');
})();
</script>
</body>
</html>
